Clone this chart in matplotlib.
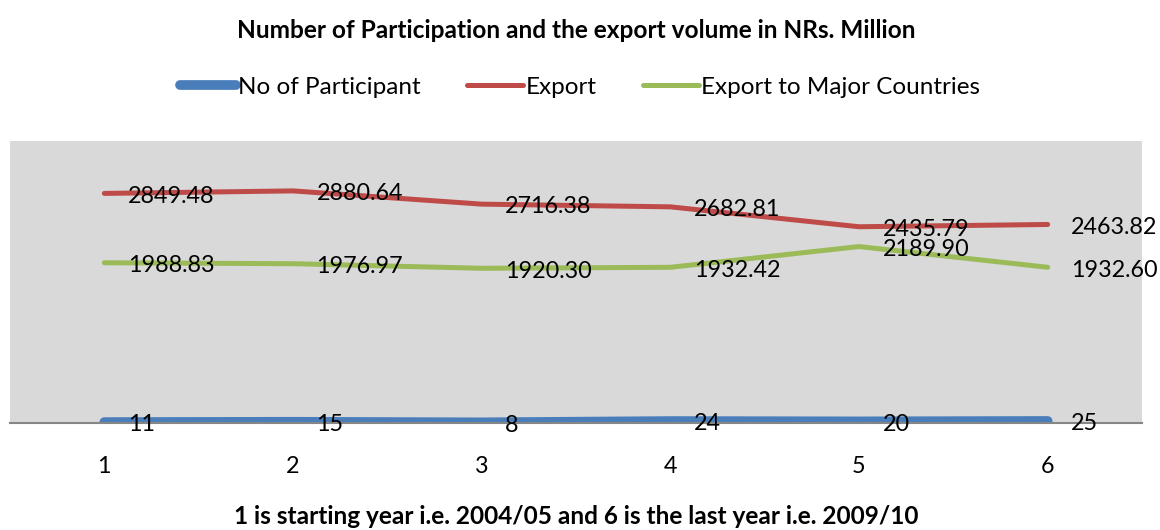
import matplotlib
matplotlib.use("Agg")
import matplotlib.pyplot as plt

plt.rcParams['font.family'] = ['Lato', 'DejaVu Sans']

years = [1, 2, 3, 4, 5, 6]
participants = [11, 15, 8, 24, 20, 25]
export = [2849.48, 2880.64, 2716.38, 2682.81, 2435.79, 2463.82]
export_major = [1988.83, 1976.97, 1920.30, 1932.42, 2189.90, 1932.60]
tick_labels = ["1", "2", "3", "4", "5", "6"]

title = "Number of Participation and the export volume in NRs. Million"
xlabel = "1 is starting year i.e. 2004/05 and 6 is the last year i.e. 2009/10"

c_blue = "#4a7ebb"
c_red = "#be4b48"
c_green = "#9bbb59"

fig = plt.figure(figsize=(11.6, 5.3), dpi=100)
ax = fig.add_axes([10/1160, 107/530, 1132/1160, 282/530])
ax.set_facecolor("#d9d9d9")

l1, = ax.plot(years, participants, color=c_blue, lw=7, solid_capstyle='round', label="No of Participant")
l2, = ax.plot(years, export, color=c_red, lw=3.6, solid_capstyle='round', label="Export")
l3, = ax.plot(years, export_major, color=c_green, lw=3.6, solid_capstyle='round', label="Export to Major Countries")

for series in (participants, export, export_major):
    for x, v in zip(years, series):
        txt = f"{v:.2f}" if isinstance(v, float) else str(v)
        ax.annotate(txt, (x, v), xytext=(17, -2), textcoords='offset points',
                    ha='left', va='center', fontsize=16.8, color='black')

ax.set_xlim(0.5, 6.5)
ax.set_ylim(0, 3500)
ax.set_yticks([])
ax.set_xticks(years)
ax.set_xticklabels(tick_labels, fontsize=16.8)
ax.tick_params(axis='x', length=0, pad=24)
for s in ('top', 'right', 'left'):
    ax.spines[s].set_visible(False)
ax.spines['bottom'].set_color('#868686')
ax.spines['bottom'].set_linewidth(1.5)

fig.text(0.497, 1 - 30/530, title, ha='center', va='center', fontsize=17.6, fontweight='bold')
fig.text(0.497, 1 - 517/530, xlabel, ha='center', va='center', fontsize=17.6, fontweight='bold')

fig.legend(handles=[l1, l2, l3], loc='center', bbox_to_anchor=(0.500, 1 - 87/530),
           ncol=3, frameon=False, fontsize=17.5, handlelength=2.3, handletextpad=0.1,
           columnspacing=1.9)

fig.savefig("out.png", dpi=100)
